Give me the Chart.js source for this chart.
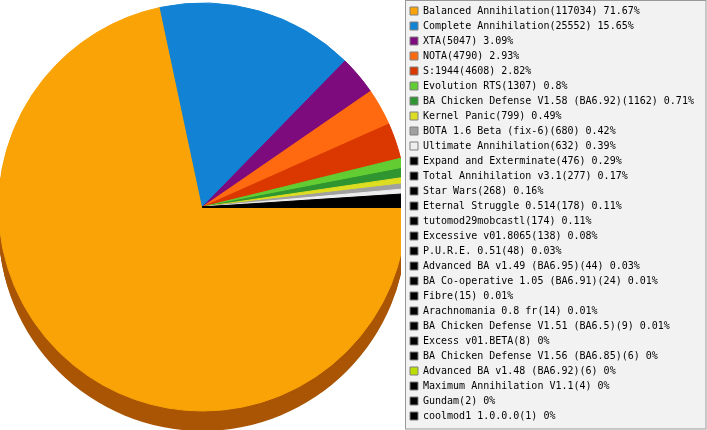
<!DOCTYPE html>
<html>
<head>
<meta charset="utf-8">
<script src="https://cdn.jsdelivr.net/npm/chart.js@4/dist/chart.umd.min.js"></script>
<style>
html,body{margin:0;padding:0;background:#ffffff;}
#c{display:block;}
</style>
</head>
<body>
<canvas id="c" width="707" height="430"></canvas>
<script>
// ---- data ----
const categories = [
  'Balanced Annihilation', 'Complete Annihilation', 'XTA', 'NOTA', 'S:1944',
  'Evolution RTS', 'BA Chicken Defense V1.58 (BA6.92)', 'Kernel Panic',
  'BOTA 1.6 Beta (fix-6)', 'Ultimate Annihilation', 'Expand and Exterminate',
  'Total Annihilation v3.1', 'Star Wars', 'Eternal Struggle 0.514',
  'tutomod29mobcastl', 'Excessive v01.8065', 'P.U.R.E. 0.51',
  'Advanced BA v1.49 (BA6.95)', 'BA Co-operative 1.05 (BA6.91)', 'Fibre',
  'Arachnomania 0.8 fr', 'BA Chicken Defense V1.51 (BA6.5)', 'Excess v01.BETA',
  'BA Chicken Defense V1.56 (BA6.85)', 'Advanced BA v1.48 (BA6.92)',
  'Maximum Annihilation V1.1', 'Gundam', 'coolmod1 1.0.0.0'
];
const counts = [
  117034, 25552, 5047, 4790, 4608, 1307, 1162, 799, 680, 632, 476, 277, 268,
  178, 174, 138, 48, 44, 24, 15, 14, 9, 8, 6, 6, 4, 2, 1
];
const percents = [
  71.67, 15.65, 3.09, 2.93, 2.82, 0.8, 0.71, 0.49, 0.42, 0.39, 0.29, 0.17, 0.16,
  0.11, 0.11, 0.08, 0.03, 0.03, 0.01, 0.01, 0.01, 0.01, 0, 0, 0, 0, 0, 0
];

// ---- styles ----
const colors = [
  '#F9A307', '#1283D4', '#7E0B7E', '#FF6A10', '#DA3800', '#62CC33', '#2F9530',
  '#DDDD22', '#A0A0A0', '#EEEEEE', '#000000', '#000000', '#000000', '#000000',
  '#000000', '#000000', '#000000', '#000000', '#000000', '#000000', '#000000',
  '#000000', '#000000', '#000000', '#BBDD00', '#000000', '#000000', '#000000'
];
const DEPTH = 20;
function darken(hex) {
  const n = parseInt(hex.slice(1), 16);
  const r = Math.round(((n >> 16) & 255) * 0.68);
  const g = Math.round(((n >> 8) & 255) * 0.52);
  const b = Math.round((n & 255) * 0.5);
  return 'rgb(' + r + ',' + g + ',' + b + ')';
}
const depthColors = colors.map(darken);
const CLIP_INSET = 4;

const legendWidthPlugin = {
  id: 'legendWidth',
  beforeLayout(chart) {
    const lg = chart.legend;
    if (lg && !lg._patched) {
      const orig = lg.fit;
      lg.fit = function () { orig.call(this); this.width = 302; };
      lg._patched = true;
    }
  }
};

const legendBoxPlugin = {
  id: 'legendBox',
  beforeDraw(chart) {
    const lg = chart.legend;
    if (!lg) return;
    const ctx = chart.ctx;
    ctx.save();
    ctx.fillStyle = '#F2F2F2';
    ctx.fillRect(lg.left, 0, chart.width - lg.left - 1, chart.height - 1);
    ctx.strokeStyle = '#999999';
    ctx.lineWidth = 1;
    ctx.strokeRect(lg.left + 0.5, 0.5, chart.width - lg.left - 1.5, chart.height - 1.5);
    ctx.restore();
  }
};

const depthPlugin = {
  id: 'depth3d',
  beforeDatasetsDraw(chart) {
    const meta = chart.getDatasetMeta(0);
    const ctx = chart.ctx;
    ctx.save();
    ctx.beginPath();
    ctx.rect(0, 0, chart.chartArea.right - CLIP_INSET, chart.height);
    ctx.clip();
    meta.data.forEach((arc, i) => {
      const p = arc.getProps(['x', 'y', 'startAngle', 'endAngle', 'outerRadius']);
      ctx.fillStyle = depthColors[i];
      for (let d = 1; d <= DEPTH; d++) {
        ctx.beginPath();
        ctx.moveTo(p.x, p.y + d);
        ctx.arc(p.x, p.y + d, p.outerRadius, p.startAngle, p.endAngle);
        ctx.closePath();
        ctx.fill();
      }
    });
    ctx.restore();
  }
};

function labelText(i) {
  return categories[i] + '(' + counts[i] + ') ' + percents[i] + '%';
}

new Chart(document.getElementById('c'), {
  type: 'pie',
  data: {
    labels: categories,
    datasets: [{
      data: counts,
      backgroundColor: colors,
      borderColor: colors,
      borderWidth: 1,
      radius: 204,
      clip: {left: false, top: false, right: -CLIP_INSET, bottom: false}
    }]
  },
  options: {
    responsive: false,
    animation: false,
    rotation: 90,
    layout: {padding: {top: 1, left: 0, right: 0, bottom: 0}},
    plugins: {
      tooltip: {enabled: false},
      subtitle: {
        display: true, text: '', position: 'bottom', fullSize: false,
        padding: 0, font: {size: 10, lineHeight: '17px'}
      },
      legend: {
        display: true,
        position: 'right',
        align: 'start',
        labels: {
          boxWidth: 8,
          boxHeight: 8,
          padding: 5,
          color: '#000000',
          font: {family: 'DejaVu Sans Mono', size: 10},
          generateLabels() {
            return categories.map((c, i) => ({
              text: labelText(i),
              fillStyle: colors[i],
              strokeStyle: '#808080',
              lineWidth: 1,
              fontColor: '#000000',
              hidden: false,
              index: i
            }));
          }
        }
      }
    }
  },
  plugins: [legendWidthPlugin, legendBoxPlugin, depthPlugin]
});
</script>
</body>
</html>
